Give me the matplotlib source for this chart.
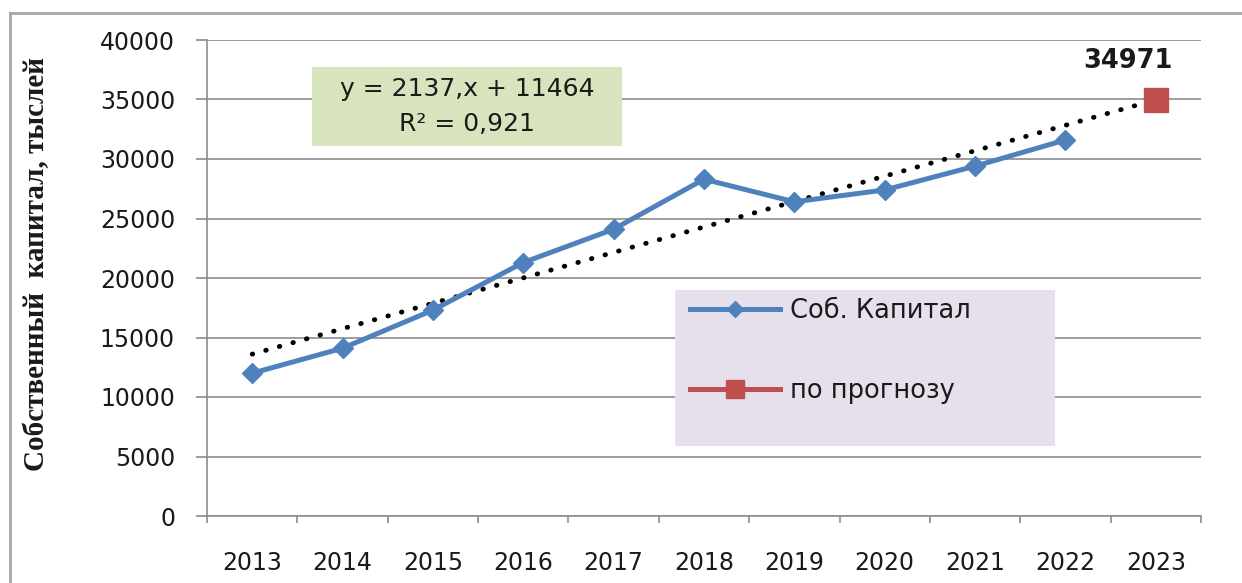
import numpy as np
import matplotlib
matplotlib.use('agg')
import matplotlib.pyplot as plt
from matplotlib.patches import Rectangle
from matplotlib.lines import Line2D

years = ['2013', '2014', '2015', '2016', '2017', '2018', '2019', '2020', '2021', '2022', '2023']
capital = [12000, 14100, 17300, 21300, 24100, 28300, 26400, 27400, 29400, 31600]
forecast = [34971]
trend_slope = 2137
trend_intercept = 11464
r_squared = '0,921'
y_ticks = [0, 5000, 10000, 15000, 20000, 25000, 30000, 35000, 40000]

blue = '#4f81bd'
red = '#c0504d'
grid_col = '#8c8c8c'
txt_col = '#1a1a1a'

fig = plt.figure(figsize=(12.42, 5.83), dpi=100)
ax = fig.add_axes([207 / 1242, 1 - 516 / 583, 994 / 1242, 476 / 583])

# outer chart frame (only left and top edges visible)
fig.add_artist(Line2D([10 / 1242, 10 / 1242], [-0.01, 1 - 13 / 583], transform=fig.transFigure,
                      color='#a6a6a6', lw=2))
fig.add_artist(Line2D([10 / 1242, 1.01], [1 - 13 / 583, 1 - 13 / 583], transform=fig.transFigure,
                      color='#a6a6a6', lw=2))

x_pos = np.arange(len(years))

# linear trend (Excel numbering 1..n)
trend_x = np.arange(1, len(years) + 1)
trend_y = trend_slope * trend_x + trend_intercept
ax.plot(x_pos, trend_y, color='black', lw=3.5, linestyle=(0, (0.1, 2.8)),
        dash_capstyle='round', zorder=4)

ax.plot(x_pos[:len(capital)], capital, color=blue, lw=3.6, marker='D', ms=10.5,
        label='Соб. Капитал', zorder=5)
ax.plot(x_pos[len(capital):], forecast, color=red, lw=3.6, marker='s', ms=17,
        label='по прогнозу', zorder=5)

ax.annotate(str(forecast[0]), (x_pos[-1], forecast[0]), xytext=(-20, 28),
            textcoords='offset points', ha='center', va='center',
            fontsize=18.5, fontweight='bold', color=txt_col)

ax.set_xlim(-0.5, len(years) - 0.5)
ax.set_ylim(0, 40000)
ax.set_yticks(y_ticks)
ax.set_yticklabels([str(v) for v in y_ticks])
ax.set_xticks(x_pos)
ax.set_xticklabels(years)
ax.set_xticks(np.arange(-0.5, len(years)), minor=True)

ax.tick_params(axis='y', direction='out', length=8, width=1.2, color=grid_col,
               labelsize=17, labelcolor=txt_col, pad=15)
ax.tick_params(axis='x', which='major', length=0, labelsize=17, labelcolor=txt_col, pad=25)
ax.tick_params(axis='x', which='minor', direction='out', length=5, width=1.2, color=grid_col)

ax.yaxis.grid(True, color=grid_col, lw=1.2)
ax.set_axisbelow(True)
for s in ['top', 'right']:
    ax.spines[s].set_visible(False)
for s in ['left', 'bottom']:
    ax.spines[s].set_color(grid_col)
    ax.spines[s].set_linewidth(1.2)

# trend equation box
ax.add_patch(Rectangle((0.1056, 0.777), 0.3119, 0.166, transform=ax.transAxes,
                       facecolor='#d7e4bd', edgecolor='none', zorder=2))
ax.text(0.2616, 0.897, 'y = %d,x + %d' % (trend_slope, trend_intercept), transform=ax.transAxes,
        ha='center', va='center', fontsize=18, color=txt_col, zorder=3)
ax.text(0.2616, 0.8235, 'R² = ' + r_squared, transform=ax.transAxes,
        ha='center', va='center', fontsize=18, color=txt_col, zorder=3)

# legend box
ax.add_patch(Rectangle((0.4708, 0.147), 0.3822, 0.3278, transform=ax.transAxes,
                       facecolor='#e5e0ec', edgecolor='none', zorder=2))
leg = ax.legend(loc='upper left', bbox_to_anchor=(0.486, 0.458), frameon=False,
                fontsize=18.5, handlelength=3.5, handletextpad=0.4, labelspacing=2.1,
                borderpad=0, borderaxespad=0, markerscale=0.75)
leg.set_zorder(6)
for t in leg.get_texts():
    t.set_color(txt_col)

fig.text(37 / 1242, 1 - 264 / 583, 'Собственный  капитал, тыслей', rotation=90,
         ha='center', va='center', fontsize=21, fontweight='bold',
         family='Liberation Serif', color=txt_col)

fig.savefig('out.png', dpi=100)
